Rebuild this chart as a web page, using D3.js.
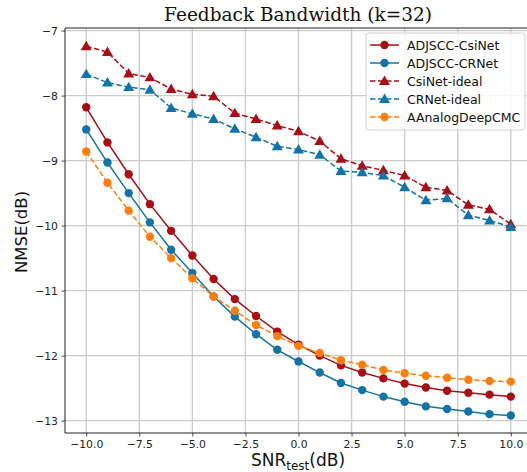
<!DOCTYPE html>
<html><head><meta charset="utf-8">
<script src="https://cdn.jsdelivr.net/npm/d3@7"></script>
<style>body{margin:0;background:#fff;} svg{display:block;}</style>
</head><body>
<svg id="c" width="527" height="472"></svg>
<script>
const snr = d3.range(-10, 11, 1);
const adjCsiNet = [-8.18,-8.72,-9.21,-9.67,-10.08,-10.46,-10.82,-11.13,-11.39,-11.63,-11.83,-12.00,-12.15,-12.26,-12.35,-12.43,-12.49,-12.54,-12.57,-12.60,-12.63];
const adjCRNet = [-8.52,-9.03,-9.50,-9.95,-10.37,-10.73,-11.09,-11.40,-11.67,-11.91,-12.09,-12.26,-12.42,-12.53,-12.63,-12.71,-12.78,-12.82,-12.86,-12.90,-12.92];
const csiIdeal = [-7.24,-7.33,-7.66,-7.72,-7.90,-7.98,-8.01,-8.27,-8.36,-8.46,-8.55,-8.70,-8.97,-9.08,-9.15,-9.23,-9.41,-9.46,-9.68,-9.75,-9.98];
const crIdeal = [-7.67,-7.80,-7.87,-7.91,-8.19,-8.28,-8.36,-8.51,-8.64,-8.78,-8.83,-8.91,-9.16,-9.18,-9.23,-9.41,-9.61,-9.58,-9.84,-9.92,-10.02];
const analogDeepCMC = [-8.86,-9.34,-9.77,-10.17,-10.50,-10.81,-11.09,-11.31,-11.53,-11.70,-11.85,-11.96,-12.07,-12.14,-12.22,-12.27,-12.31,-12.34,-12.37,-12.39,-12.40];
const xTicks = [-10,-7.5,-5,-2.5,0,2.5,5,7.5,10];
const yTicks = [-13,-12,-11,-10,-9,-8,-7];

const RED = "#a50f15", BLUE = "#1473a6", ORANGE = "#ff7f0e";
const series = [
  {name:"ADJSCC-CsiNet", vals:adjCsiNet, color:RED, dash:null, marker:"circle"},
  {name:"ADJSCC-CRNet", vals:adjCRNet, color:BLUE, dash:null, marker:"circle"},
  {name:"CsiNet-ideal", vals:csiIdeal, color:RED, dash:"5.5,2.5", marker:"triangle"},
  {name:"CRNet-ideal", vals:crIdeal, color:BLUE, dash:"5.5,2.5", marker:"triangle"},
  {name:"AAnalogDeepCMC", vals:analogDeepCMC, color:ORANGE, dash:"5.5,2.5", marker:"circle"}
];

const svg = d3.select("#c");
const L = 65, R = 532, T = 28, B = 433;
const x = d3.scaleLinear().domain([-11, 11]).range([L, R]);
const y = d3.scaleLinear().domain([-13.19, -6.96]).range([B, T]);
const font = "DejaVu Sans, sans-serif";

// grid
const g = svg.append("g");
g.selectAll(".gx").data(xTicks).enter().append("line")
  .attr("x1", d=>x(d)).attr("x2", d=>x(d)).attr("y1", T).attr("y2", B)
  .attr("stroke", "#cccccc").attr("stroke-width", 1.4);
g.selectAll(".gy").data(yTicks).enter().append("line")
  .attr("y1", d=>y(d)).attr("y2", d=>y(d)).attr("x1", L).attr("x2", R)
  .attr("stroke", "#cccccc").attr("stroke-width", 1.4);

// axes
const xAxis = d3.axisBottom(x).tickValues(xTicks).tickSize(3.5).tickPadding(3.5)
  .tickFormat(d => d3.format(".1f")(d).replace("-", "\u2212"));
const yAxis = d3.axisLeft(y).tickValues(yTicks).tickSize(3.5).tickPadding(3.5)
  .tickFormat(d => String(d).replace("-", "\u2212"));
const gx = svg.append("g").attr("transform", `translate(0,${B})`).call(xAxis);
const gy = svg.append("g").attr("transform", `translate(${L},0)`).call(yAxis);
[gx, gy].forEach(a => {
  a.select(".domain").remove();
  a.selectAll("text").attr("font-family", font).attr("font-size", 10.8).attr("fill", "#222");
  a.selectAll("line").attr("stroke", "#222").attr("stroke-width", 0.8);
});

// frame
svg.append("line").attr("x1", L).attr("x2", L).attr("y1", T).attr("y2", B).attr("stroke", "#222").attr("stroke-width", 1);
svg.append("line").attr("x1", L).attr("x2", R).attr("y1", B).attr("y2", B).attr("stroke", "#222").attr("stroke-width", 1);
svg.append("line").attr("x1", L).attr("x2", R).attr("y1", T).attr("y2", T).attr("stroke", "#222").attr("stroke-width", 1);

const tri = d3.symbol().type(d3.symbolTriangle).size(52);
function drawMarker(sel, s, px, py) {
  if (s.marker === "circle") {
    sel.append("circle").attr("cx", px).attr("cy", py).attr("r", 4.2).attr("fill", s.color);
  } else {
    sel.append("path").attr("d", tri).attr("transform", `translate(${px},${py+0.8})`).attr("fill", s.color);
  }
}

const line = d3.line().x((d,i)=>x(snr[i])).y(d=>y(d));
const plot = svg.append("g");
series.forEach(s => {
  plot.append("path").datum(s.vals).attr("d", line).attr("fill", "none")
    .attr("stroke", s.color).attr("stroke-width", 1.5)
    .attr("stroke-dasharray", s.dash);
  const mg = plot.append("g");
  s.vals.forEach((v,i) => drawMarker(mg, s, x(snr[i]), y(v)));
});

// title
svg.append("text").attr("x", 298).attr("y", 21).attr("text-anchor", "middle")
  .attr("font-family", "DejaVu Serif, serif").attr("font-size", 18.5).attr("fill", "#111")
  .text("Feedback Bandwidth (k=32)");

// axis labels
const xl = svg.append("text").attr("x", 298).attr("y", 466).attr("text-anchor", "middle")
  .attr("font-family", font).attr("font-size", 17).attr("fill", "#111");
xl.append("tspan").text("SNR");
xl.append("tspan").attr("font-size", 12).attr("dy", 3.5).text("test");
xl.append("tspan").attr("dy", -3.5).text("(dB)");
svg.append("text").attr("transform", "translate(27,232) rotate(-90)").attr("text-anchor", "middle")
  .attr("font-family", font).attr("font-size", 16.5).attr("fill", "#111").text("NMSE(dB)");

// legend
const lg = svg.append("g");
lg.append("rect").attr("x", 366).attr("y", 33).attr("width", 159).attr("height", 97).attr("rx", 3)
  .attr("fill", "#fff").attr("fill-opacity", 0.85).attr("stroke", "#d0d0d0").attr("stroke-width", 1);
series.forEach((s, i) => {
  const yy = 45 + i * 18;
  lg.append("line").attr("x1", 370).attr("x2", 399).attr("y1", yy).attr("y2", yy)
    .attr("stroke", s.color).attr("stroke-width", 1.5).attr("stroke-dasharray", s.dash);
  drawMarker(lg, s, 384.5, yy);
  lg.append("text").attr("x", 407).attr("y", yy + 4.5).attr("font-family", font)
    .attr("font-size", 12.5).attr("fill", "#111").text(s.name);
});
</script>
</body></html>
